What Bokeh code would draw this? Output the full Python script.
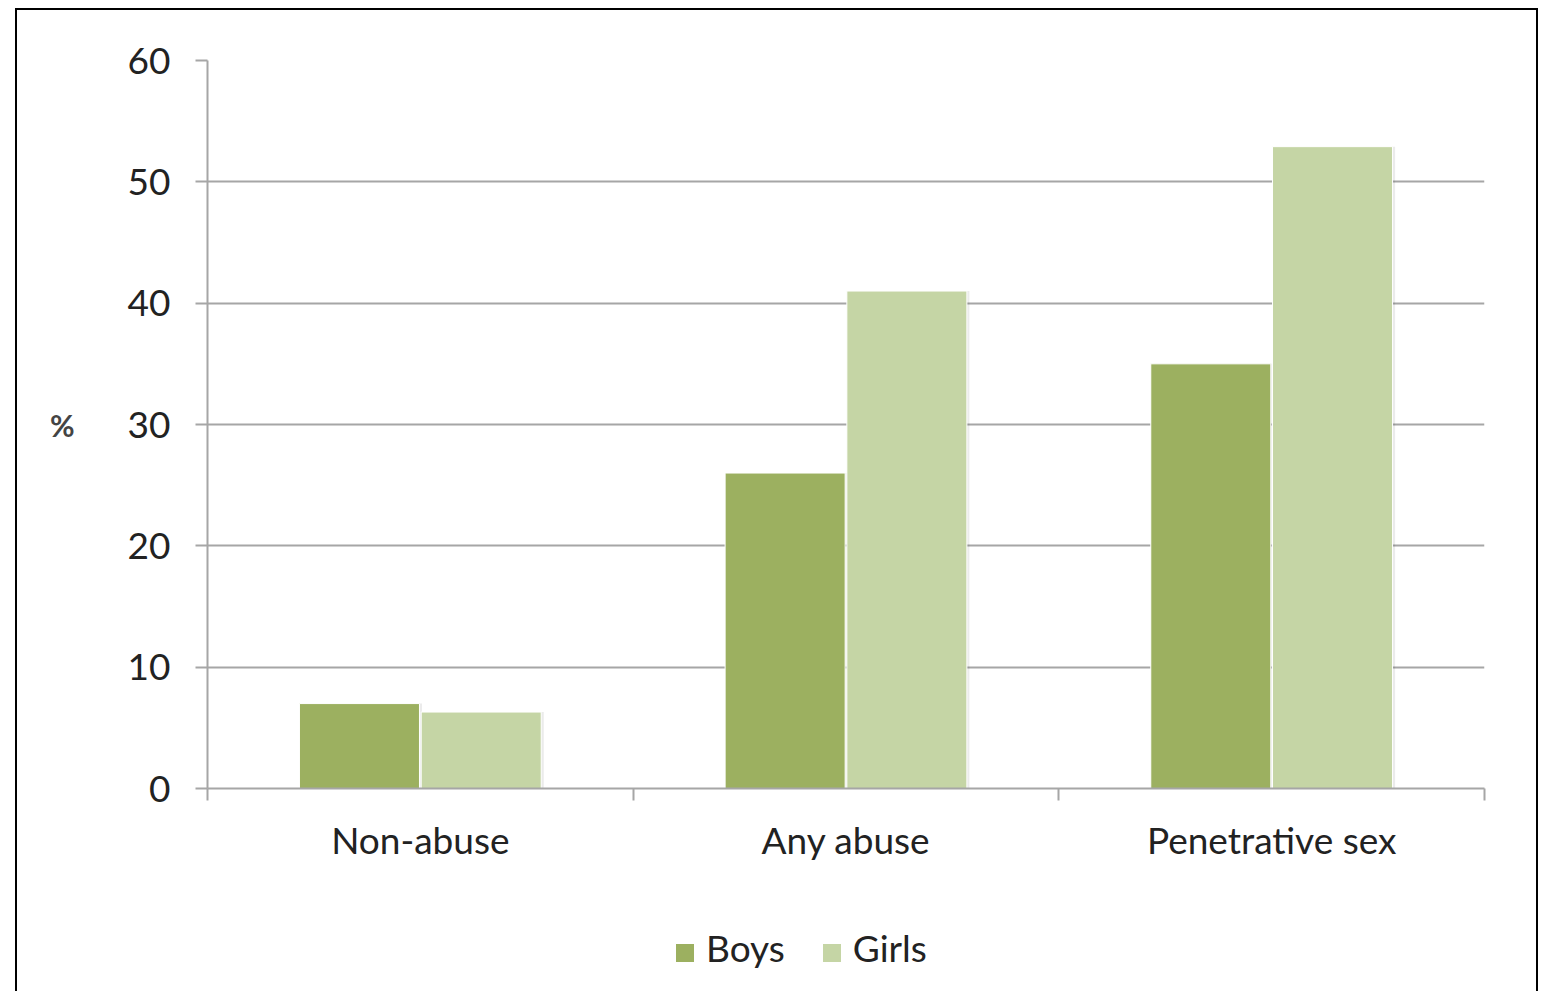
from bokeh.plotting import figure
from bokeh.layouts import column
from bokeh.models import LinearAxis, FixedTicker, Range1d, ColumnDataSource, Div
from bokeh.embed import file_html
from bokeh.resources import INLINE

categories = ["Non-abuse", "Any abuse", "Penetrative sex"]
boys = [7.0, 26.0, 35.0]
girls = [6.3, 41.0, 52.9]
y_ticks = [0, 10, 20, 30, 40, 50, 60]
series = ["Boys", "Girls"]

BOYS_COLOR = "#9CB060"
GIRLS_COLOR = "#C5D5A5"
GRID = "#A6A6A6"
FONT = "Lato"
FS = "37px"

idx = list(range(len(categories)))
src = ColumnDataSource(data=dict(
    xb=[i + 0.357 for i in idx],
    xg=[i + 0.643 for i in idx],
    boys=boys,
    girls=girls,
))

p = figure(frame_width=1277, frame_height=728, output_backend="svg", toolbar_location=None,
           x_range=Range1d(0, len(categories)), y_range=Range1d(0, 60),
           x_axis_location=None, y_axis_location=None,
           min_border_left=190, min_border_top=50, min_border_right=42,
           min_border_bottom=100)
p.outline_line_color = None
p.background_fill_color = "white"

# y axis
yax = LinearAxis(ticker=FixedTicker(ticks=y_ticks))
yax.axis_line_color = GRID
yax.axis_line_width = 2
yax.major_tick_line_color = GRID
yax.major_tick_line_width = 2
yax.major_tick_out = 12
yax.major_tick_in = 0
yax.minor_tick_line_color = None
yax.major_label_text_font = FONT
yax.major_label_text_font_size = FS
yax.major_label_text_color = "#222222"
yax.major_label_standoff = 25
yax.axis_label = "%"
yax.axis_label_orientation = "horizontal"
yax.axis_label_text_font = FONT
yax.axis_label_text_font_style = "bold"
yax.axis_label_text_font_size = "30px"
yax.axis_label_standoff = 50
p.add_layout(yax, "left")

# x axis: boundary ticks between categories
xax = LinearAxis(ticker=FixedTicker(ticks=[0, 1, 2, 3]))
xax.major_label_overrides = {0: "", 1: "", 2: "", 3: ""}
xax.major_label_text_font_size = "1px"
xax.axis_line_color = GRID
xax.axis_line_width = 2
xax.major_tick_line_color = GRID
xax.major_tick_line_width = 2
xax.major_tick_out = 12
xax.major_tick_in = 0
xax.minor_tick_line_color = None
p.add_layout(xax, "below")

# x axis: category names
xlab = LinearAxis(ticker=FixedTicker(ticks=[i + 0.5 for i in idx]))
xlab.major_label_overrides = {i + 0.5: c for i, c in zip(idx, categories)}
xlab.axis_line_color = None
xlab.major_tick_line_color = None
xlab.minor_tick_line_color = None
xlab.major_label_text_font = FONT
xlab.major_label_text_font_size = FS
xlab.major_label_text_color = "#222222"
xlab.major_label_standoff = 10
p.add_layout(xlab, "below")

p.xgrid.visible = False
p.ygrid.ticker = FixedTicker(ticks=y_ticks)
p.ygrid.grid_line_color = GRID
p.ygrid.grid_line_width = 2

# faint shadow to the right of each bar
p.vbar(x=[x + 0.006 for x in src.data["xb"]], top=boys, width=0.282,
       fill_color="#000000", fill_alpha=0.08, line_color=None)
p.vbar(x=[x + 0.006 for x in src.data["xg"]], top=girls, width=0.282,
       fill_color="#000000", fill_alpha=0.08, line_color=None)

p.vbar(x="xb", top="boys", width=0.282, source=src,
       fill_color=BOYS_COLOR, line_color="white", line_width=1)
p.vbar(x="xg", top="girls", width=0.282, source=src,
       fill_color=GIRLS_COLOR, line_color="white", line_width=1)

# legend row under the chart
def key(color, label, first):
    gap = "" if first else "margin-left:38px;"
    return ('<span style="display:inline-block;width:18px;height:18px;'
            f'background:{color};{gap}margin-right:12px"></span>{label}')

legend_html = (
    f'<div style="font-family:{FONT};font-size:{FS};color:#222222;'
    'padding-left:654px;padding-top:35px;line-height:40px;white-space:nowrap">'
    + key(BOYS_COLOR, series[0], True) + key(GIRLS_COLOR, series[1], False)
    + '</div>'
)
legend = Div(text=legend_html, width=1509, height=93)

layout = column(p, legend, spacing=0)
layout.styles = {"border-top": "2px solid black", "border-left": "2px solid black",
                 "border-right": "2px solid black", "margin-left": "15px",
                 "margin-top": "8px", "background": "white"}

open("out.html", "w").write(file_html(layout, INLINE))
